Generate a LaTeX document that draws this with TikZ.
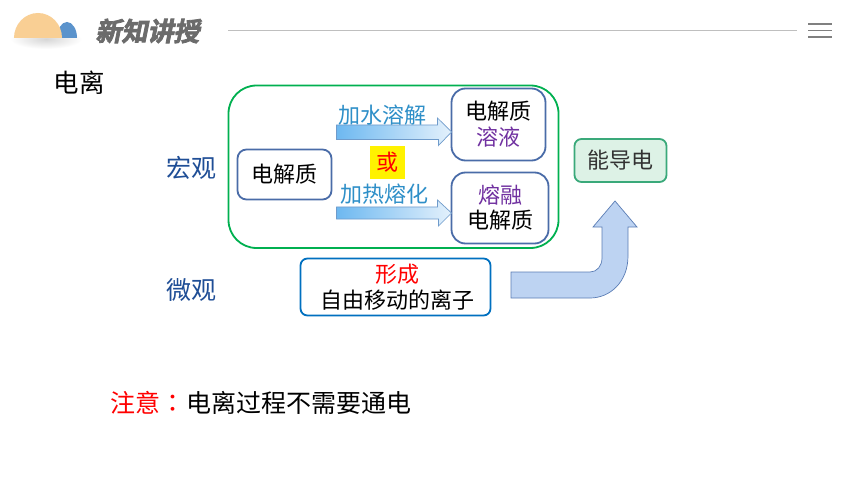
\documentclass[tikz,border=0pt]{standalone}
\usepackage{fontspec}
\setmainfont{Noto Sans CJK SC}
\newfontfamily\titlefont[FakeSlant=0.2,FakeBold=3]{Noto Sans CJK SC Bold}
\newfontfamily\colonfont{Noto Sans CJK TC}
\usetikzlibrary{calc}
\definecolor{gbox}{HTML}{00B050}
\definecolor{sbox}{HTML}{4A6CA8}
\definecolor{ionblue}{HTML}{0070C0}
\definecolor{headblue}{HTML}{1F4E96}
\definecolor{procblue}{HTML}{2E8FC8}
\definecolor{purp}{HTML}{7030A0}
\definecolor{cfill}{HTML}{DDF2E6}
\definecolor{cline}{HTML}{3AA97A}
\definecolor{bentfill}{HTML}{BDD3F2}
\definecolor{bentline}{HTML}{5B7DB5}
\definecolor{arrowL}{HTML}{6DB8F0}
\definecolor{arrowR}{HTML}{E4F1FC}
\definecolor{arrowE}{HTML}{6F9BCB}
\definecolor{logoB}{HTML}{5B93CC}
\definecolor{logoO}{HTML}{F9CF94}
\newcommand{\fs}[1]{\fontsize{#1}{#1}\selectfont}
\tikzset{
  x=1pt,y=-1pt,
  every node/.style={inner sep=0pt,outer sep=0pt},
  label22/.style={font=\fontsize{22}{27}\selectfont,align=center,text=black},
  head25/.style={font=\fs{25},text=headblue},
  stepbox/.style={draw=sbox,line width=1.8pt,rounded corners=#1,fill=white,label22},
  blockarrow/.style={left color=arrowL,right color=arrowR,draw=arrowE,line width=.7pt},
}
\begin{document}
\begin{tikzpicture}
\useasboundingbox (0,0) rectangle (860,484);
\fill[white] (0,0) rectangle (860,484);
% header logo
\shade[inner color=black!16,outer color=white] (46,39) ellipse [x radius=36,y radius=10];
\fill[logoB] (57,38) arc[start angle=180,end angle=360,x radius=10,y radius=16] -- cycle;
\fill[logoO] (14,38) arc[start angle=180,end angle=360,x radius=24,y radius=25] -- cycle;
\node[font=\titlefont\fs{26},text=black!58] (title) at (147.5,31) {新知讲授};
\coordinate (ruleA) at (228,30); \coordinate (ruleB) at (797,30);
\draw[black!25,line width=.8pt] (ruleA) -- (ruleB);
\foreach \yy in {24,30.5,37} \draw[black!50,line width=1.8pt] (808,\yy) -- (832,\yy);
% headings
\node[font=\fs{25.5},text=black] (ttl) at (79,83) {电离};
\node[head25] (macro) at (191,168) {宏观};
\node[head25] (micro) at (191,290) {微观};
% container
\draw[gbox,line width=1.8pt,rounded corners=28pt] (228.5,85.5) rectangle (558.5,248);
% boxes
\node[stepbox=9pt,minimum width=94pt,minimum height=50pt] (src) at (284.5,174.5) {电解质};
\node[stepbox=14pt,minimum width=94pt,minimum height=72pt] (sol) at (498.5,124.5) {电解质\\[-1pt]\textcolor{purp}{溶液}};
\node[stepbox=14pt,minimum width=97pt,minimum height=71pt] (melt) at (500,208) {\textcolor{purp}{熔融}\\[-2pt]电解质};
\node[draw=cline,fill=cfill,line width=1.8pt,rounded corners=7pt,minimum width=92pt,minimum height=43pt,font=\fs{22},text=black!80] (cond) at (620.5,160.5) {能导电};
\node[draw=ionblue,line width=1.8pt,rounded corners=7pt,fill=white,minimum width=190pt,minimum height=57pt,label22] (ions) at (395.5,287) {\hspace*{4pt}\textcolor{red}{形成}\\[-1pt]\hspace*{4pt}自由移动的离子};
% block arrows
\shade[blockarrow] ($(sol.west)+(-115,0.5)$) -- ++(101,0) -- ++(0,-7) -- ($(sol.west)+(0,7.5)$) -- ++(-13,13.5) -- ++(0,-6) -- ++(-102,0) -- cycle;
\shade[blockarrow] ($(melt.west)+(-115,-1)$) -- ++(101,0) -- ++(0,-7) -- ($(melt.west)+(0,5)$) -- ++(-13,13) -- ++(0,-7) -- ++(-102,0) -- cycle;
% labels over arrows
\node[font=\fs{22},text=procblue] (lbA) at (382.5,115) {加水溶解};
\node[font=\fs{22},text=procblue] (lbB) at (384,194) {加热熔化};
\node[fill=yellow,minimum width=35pt,minimum height=33pt,font=\fs{22},text=red] (or) at (387.5,162.5) {或};
% bent arrow
\coordinate (bt) at ($(cond.south)+(-5.5,19)$);
\draw[fill=bentfill,draw=bentline,line width=.7pt] (511,272) -- (590,272) .. controls (597,272) and (602,266) .. (602,258) -- (602,227) -- (593,227) -- (bt) -- (637,227) -- (628,227) -- (628,256) .. controls (628,282) and (610,298) .. (590,298) -- (511,298) -- cycle;
% note
\node[font=\fs{25},text=red,anchor=west] (note) at (110.5,403) {注意{\colonfont ：}};
\node[font=\fs{25},text=black,anchor=west] (noteB) at (186.5,403) {电离过程不需要通电};
\end{tikzpicture}
\end{document}
